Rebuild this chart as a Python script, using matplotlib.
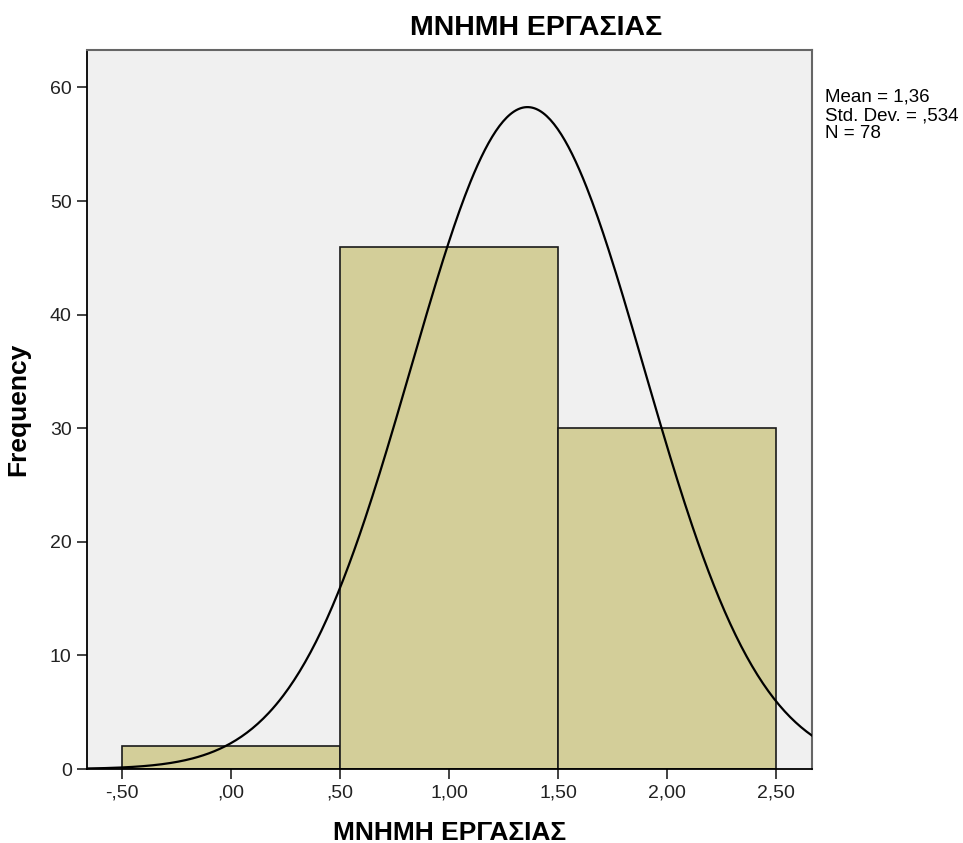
import matplotlib
matplotlib.use("Agg")
import matplotlib.pyplot as plt
import numpy as np

# histogram data
bin_edges = [-0.5, 0.5, 1.5, 2.5]
counts = [2, 46, 30]
mean = 1.36
std_dev = 0.534
n = 78
xticks = [-0.5, 0.0, 0.5, 1.0, 1.5, 2.0, 2.5]
xtick_labels = ["-,50", ",00", ",50", "1,00", "1,50", "2,00", "2,50"]
yticks = [0, 10, 20, 30, 40, 50, 60]

plt.rcParams['font.family'] = ['Liberation Sans', 'DejaVu Sans']

fig = plt.figure(figsize=(9.63, 8.43), dpi=100)
ax = fig.add_axes([87 / 963, 1 - 769 / 843, (812 - 87) / 963, (769 - 50) / 843])
ax.set_facecolor('#F0F0F0')

widths = np.diff(bin_edges)
ax.bar(bin_edges[:-1], counts, width=widths, align='edge',
       color='#D3CE99', edgecolor='#1a1a1a', linewidth=1.2, zorder=2)

# fitted normal curve (scaled by N * bin width)
xs = np.linspace(-0.66, 2.665, 400)
bw = widths[0]
ys = n * bw / (std_dev * np.sqrt(2 * np.pi)) * np.exp(-0.5 * ((xs - mean) / std_dev) ** 2)
ax.plot(xs, ys, color='black', linewidth=1.6, zorder=3)

ax.set_xlim(-0.66, 2.665)
ax.set_ylim(0, 63.3)
ax.set_xticks(xticks)
ax.set_xticklabels(xtick_labels)
ax.set_yticks(yticks)
ax.tick_params(direction='out', length=7, width=1.2, labelsize=14, colors='#222222', pad=4)

ax.spines['left'].set_color('black')
ax.spines['bottom'].set_color('black')
ax.spines['left'].set_linewidth(1.3)
ax.spines['bottom'].set_linewidth(1.3)
ax.spines['top'].set_color('#666666')
ax.spines['right'].set_color('#666666')
ax.spines['top'].set_linewidth(1.5)
ax.spines['right'].set_linewidth(1.5)

ax.set_xlabel('ΜΝΗΜΗ ΕΡΓΑΣΙΑΣ', fontsize=19, fontweight='bold', labelpad=14)
ax.set_ylabel('Frequency', fontsize=19, fontweight='bold', labelpad=14)

fig.text(536 / 963, 1 - 28 / 843, 'ΜΝΗΜΗ ΕΡΓΑΣΙΑΣ', fontsize=20.5, fontweight='bold',
         ha='center', va='center')
fig.text(825 / 963, 1 - 89 / 843,
         'Mean = 1,36\nStd. Dev. = ,534\nN = 78',
         fontsize=13.5, ha='left', va='top', linespacing=1.08)

fig.savefig('out.png', dpi=100)
